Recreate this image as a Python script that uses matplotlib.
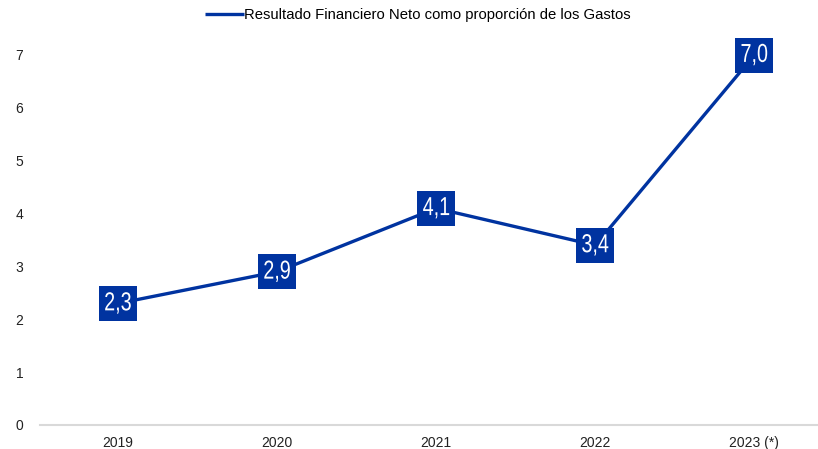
import matplotlib.pyplot as plt
from matplotlib.textpath import TextPath
from matplotlib.patches import PathPatch, Rectangle
from matplotlib.font_manager import FontProperties
from matplotlib.transforms import Affine2D

years = ["2019", "2020", "2021", "2022", "2023 (*)"]
values = [2.3, 2.9, 4.1, 3.4, 7.0]
labels = ["2,3", "2,9", "4,1", "3,4", "7,0"]

BLUE = "#0033A0"

plt.rcParams["font.family"] = ["Liberation Sans", "DejaVu Sans"]

fig = plt.figure(figsize=(8.18, 4.49), dpi=100)
ax = fig.add_axes([40 / 818, (449 - 425) / 449, 778 / 818, (425 - 55) / 449])

x = range(len(years))
ax.plot(x, values, color=BLUE, lw=2.4, solid_capstyle="butt",
        label="Resultado Financiero Neto como proporción de los Gastos")

ax.set_xlim(-0.49, 4.40)
ax.set_ylim(0, 7)
ax.set_xticks(list(x))
ax.set_xticklabels(years)
ax.set_yticks(range(8))
ax.tick_params(length=0, labelsize=10, colors="#222222")
ax.tick_params(axis="y", pad=12)
ax.tick_params(axis="x", pad=8)
for s in ["top", "right", "left"]:
    ax.spines[s].set_visible(False)
ax.spines["bottom"].set_color("#d9d9d9")
ax.spines["bottom"].set_linewidth(1.5)

# condensed white labels in blue boxes (drawn in pixel space)
fp = FontProperties(family="Liberation Sans")
box_w, box_h = 38, 35
for xi, v, lab in zip(x, values, labels):
    px, py = ax.transData.transform((xi, v))
    fig.patches.append(Rectangle((px - box_w / 2, py - box_h / 2), box_w, box_h,
                                 fc=BLUE, ec="none", transform=None, zorder=5))
    tp = TextPath((0, 0), lab, size=26, prop=fp)
    bb = tp.get_extents()
    sx = 0.76
    tr = Affine2D().translate(-(bb.x0 + bb.x1) / 2, -(bb.y0 + bb.y1) / 2 + 0.5)
    tr = tr.scale(sx, 1).translate(px, py)
    fig.patches.append(PathPatch(tp, fc="white", ec="none", transform=tr, zorder=6))

fig.legend(loc="center", bbox_to_anchor=(418 / 818, 1 - 15 / 449), frameon=False,
           fontsize=10.7, handlelength=2.6, handletextpad=0.05)

fig.savefig("out.png", dpi=100)
